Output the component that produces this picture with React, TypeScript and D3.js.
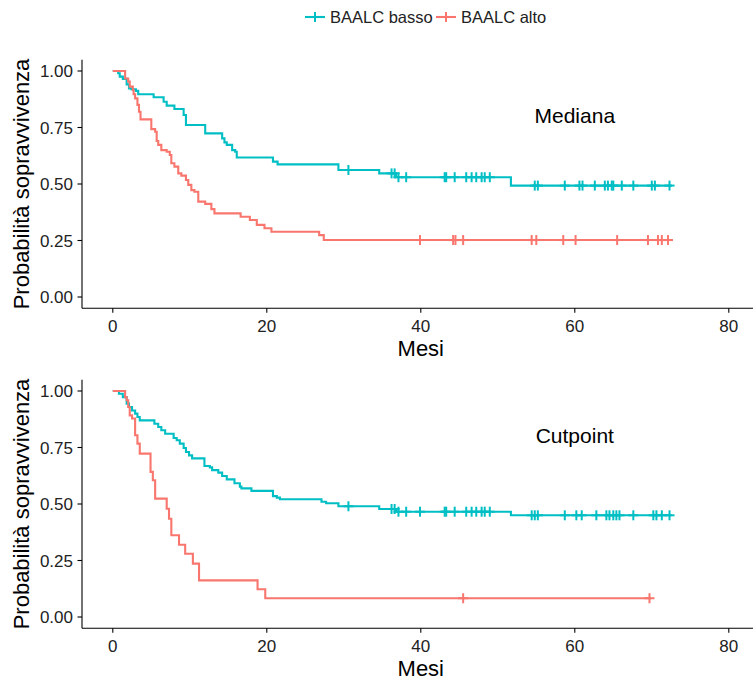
import React from "react";
import * as d3 from "d3";

// ---------- data ----------
const groups = ["BAALC basso", "BAALC alto"];
const colors = ["#00BFC4", "#F8766D"];
const xTicks = [0, 20, 40, 60, 80];
const yTicks = [0, 0.25, 0.5, 0.75, 1];
const panelLabels = ["Mediana", "Cutpoint"];

// Panel 1 (Mediana) - BAALC basso
const medBassoT = [0, 0.7, 0.9, 1.3, 1.8, 2.1, 2.4, 3.0, 3.3, 5.3, 6.6, 7.0, 8.0, 9.2, 9.5, 12.0, 14.2, 14.5, 14.8, 15.5, 15.9, 16.1, 20.8, 21.4, 29.3, 34.6, 36.8, 51.7];
const medBassoS = [1, 0.99, 0.975, 0.965, 0.941, 0.923, 0.919, 0.912, 0.897, 0.884, 0.864, 0.847, 0.832, 0.805, 0.761, 0.724, 0.702, 0.684, 0.673, 0.65, 0.643, 0.617, 0.599, 0.587, 0.562, 0.547, 0.53, 0.493];
const medBassoCens = [30.6, 36.2, 36.6, 37.1, 38.1, 43.1, 43.3, 44.4, 45.9, 46.6, 47.2, 47.9, 48.3, 48.96, 54.8, 55.2, 58.7, 60.6, 61.0, 62.6, 63.9, 64.3, 64.8, 65.0, 66.1, 67.6, 70.0, 70.4, 72.3];
const medBassoEnd = 72.6;

// Panel 1 (Mediana) - BAALC alto
const medAltoT = [0, 1.6, 2.0, 2.2, 2.6, 2.7, 2.9, 3.2, 3.4, 3.6, 5.0, 5.5, 5.7, 5.9, 6.3, 7.0, 7.4, 7.6, 8.0, 8.5, 8.9, 9.5, 9.8, 10.2, 10.6, 11.1, 12.0, 12.8, 13.2, 16.6, 17.8, 18.7, 19.7, 20.6, 26.8, 27.4];
const medAltoS = [1, 0.967, 0.953, 0.931, 0.916, 0.897, 0.879, 0.85, 0.82, 0.786, 0.743, 0.731, 0.69, 0.673, 0.65, 0.643, 0.628, 0.592, 0.577, 0.547, 0.537, 0.518, 0.496, 0.473, 0.466, 0.422, 0.412, 0.389, 0.37, 0.355, 0.341, 0.319, 0.304, 0.289, 0.274, 0.252];
const medAltoCens = [39.9, 44.2, 44.5, 45.5, 54.4, 55.0, 58.5, 60.1, 65.5, 69.5, 70.8, 71.3, 72.1];
const medAltoEnd = 72.6;

// Panel 2 (Cutpoint) - BAALC basso
const cutBassoT = [0, 0.8, 1.3, 1.8, 2.1, 2.5, 2.9, 3.2, 3.5, 5.4, 5.9, 6.3, 6.8, 7.9, 8.3, 8.7, 9.2, 9.5, 9.9, 10.3, 11.9, 12.6, 12.9, 13.7, 14.2, 14.8, 15.8, 16.5, 16.7, 18.0, 20.8, 21.3, 21.7, 27.1, 27.7, 29.3, 34.6, 36.8, 51.7];
const cutBassoS = [1, 0.988, 0.973, 0.944, 0.929, 0.914, 0.9, 0.885, 0.87, 0.855, 0.841, 0.826, 0.811, 0.792, 0.782, 0.767, 0.748, 0.73, 0.715, 0.702, 0.668, 0.662, 0.65, 0.639, 0.624, 0.609, 0.592, 0.577, 0.569, 0.558, 0.535, 0.528, 0.521, 0.51, 0.503, 0.49, 0.478, 0.466, 0.45];
const cutBassoCens = [30.6, 36.2, 36.6, 37.1, 38.1, 39.9, 43.1, 43.3, 44.4, 45.9, 46.6, 47.2, 47.9, 48.3, 48.96, 54.4, 54.8, 55.2, 58.7, 60.2, 60.9, 62.8, 64.1, 64.5, 65.0, 65.4, 65.8, 67.6, 70.2, 70.6, 71.3, 72.3];
const cutBassoEnd = 72.6;

// Panel 2 (Cutpoint) - BAALC alto
const cutAltoT = [0, 1.6, 1.8, 2.0, 2.2, 2.5, 2.9, 3.2, 3.5, 4.9, 5.2, 5.5, 7.0, 7.3, 7.6, 8.6, 9.4, 10.4, 11.2, 18.8, 19.8];
const cutAltoS = [1, 0.973, 0.959, 0.929, 0.892, 0.878, 0.804, 0.767, 0.723, 0.642, 0.605, 0.524, 0.479, 0.435, 0.362, 0.32, 0.28, 0.236, 0.162, 0.123, 0.083];
const cutAltoCens = [45.5, 69.7];
const cutAltoEnd = 69.9;

type Series = { t: number[]; s: number[]; cens: number[]; end: number };
const panels: Series[][] = [
  [
    { t: medBassoT, s: medBassoS, cens: medBassoCens, end: medBassoEnd },
    { t: medAltoT, s: medAltoS, cens: medAltoCens, end: medAltoEnd },
  ],
  [
    { t: cutBassoT, s: cutBassoS, cens: cutBassoCens, end: cutBassoEnd },
    { t: cutAltoT, s: cutAltoS, cens: cutAltoCens, end: cutAltoEnd },
  ],
];

const FONT = "'Liberation Sans', Arial, Helvetica, sans-serif";

function survAt(sr: Series, time: number) {
  let v = sr.s[0];
  for (let i = 0; i < sr.t.length; i++) if (sr.t[i] <= time) v = sr.s[i];
  return v;
}

function Panel({ data, top, label }: { data: Series[]; top: number; label: string }) {
  const plotTop = top;
  const plotBottom = top + 248.6;
  const left = 82;
  const right = 759.6;
  const x = d3.scaleLinear().domain([-4, 84]).range([left, right]);
  const y = d3.scaleLinear().domain([-0.05, 1.05]).range([plotBottom, plotTop]);
  const line = d3
    .line<[number, number]>()
    .x((d) => x(d[0]))
    .y((d) => y(d[1]))
    .curve(d3.curveStepAfter);
  const midY = (plotTop + plotBottom) / 2;
  return (
    <g>
      {data.map((sr, gi) => {
        const pts: [number, number][] = sr.t.map((tt, i) => [tt, sr.s[i]]);
        pts.push([sr.end, sr.s[sr.s.length - 1]]);
        return (
          <g key={gi}>
            <path d={line(pts) || ""} fill="none" stroke={colors[gi]} strokeWidth={2.1} />
            {sr.cens.map((c, ci) => {
              const cx = x(c);
              const cy = y(survAt(sr, c));
              return (
                <g key={ci} stroke={colors[gi]} strokeWidth={2}>
                  <line x1={cx - 5} x2={cx + 5} y1={cy} y2={cy} />
                  <line x1={cx} x2={cx} y1={cy - 5} y2={cy + 5} />
                </g>
              );
            })}
          </g>
        );
      })}
      {/* axes */}
      <line x1={left} x2={left} y1={plotTop} y2={plotBottom} stroke="#000" strokeWidth={1.1} />
      <line x1={left} x2={right} y1={plotBottom} y2={plotBottom} stroke="#000" strokeWidth={1.1} />
      {yTicks.map((v) => (
        <g key={v}>
          <line x1={left - 4.5} x2={left} y1={y(v)} y2={y(v)} stroke="#000" strokeWidth={1.1} />
          <text x={left - 9} y={y(v)} dy="0.36em" textAnchor="end" fontSize={17} fill="#222" fontFamily={FONT}>
            {d3.format(".2f")(v)}
          </text>
        </g>
      ))}
      {xTicks.map((v) => (
        <g key={v}>
          <line x1={x(v)} x2={x(v)} y1={plotBottom} y2={plotBottom + 4.5} stroke="#000" strokeWidth={1.1} />
          <text x={x(v)} y={plotBottom + 23.5} textAnchor="middle" fontSize={17} fill="#222" fontFamily={FONT}>
            {v}
          </text>
        </g>
      ))}
      <text x={(left + right) / 2} y={plotBottom + 47.5} textAnchor="middle" fontSize={22} fill="#000" fontFamily={FONT}>
        Mesi
      </text>
      <text
        transform={`translate(29,${midY}) rotate(-90)`}
        textAnchor="middle"
        fontSize={22}
        fill="#000"
        fontFamily={FONT}
      >
        Probabilità sopravvivenza
      </text>
      <text x={x(60)} y={y(0.77)} textAnchor="middle" fontSize={21} fill="#000" fontFamily={FONT}>
        {label}
      </text>
    </g>
  );
}

export default function App() {
  const legendX = [305, 436];
  return (
    <svg width={753} height={681} style={{ display: "block", position: "absolute", left: 0, top: 0, background: "#fff" }}>
      <rect width={753} height={681} fill="#fff" />
      {groups.map((g, i) => (
        <g key={g}>
          <line x1={legendX[i]} x2={legendX[i] + 20} y1={17} y2={17} stroke={colors[i]} strokeWidth={2.1} />
          <line x1={legendX[i] + 10} x2={legendX[i] + 10} y1={12} y2={22} stroke={colors[i]} strokeWidth={2} />
          <text x={legendX[i] + 25} y={23} fontSize={16.5} fill="#222" fontFamily={FONT}>
            {g}
          </text>
        </g>
      ))}
      <Panel data={panels[0]} top={59.7} label={panelLabels[0]} />
      <Panel data={panels[1]} top={379.7} label={panelLabels[1]} />
    </svg>
  );
}
